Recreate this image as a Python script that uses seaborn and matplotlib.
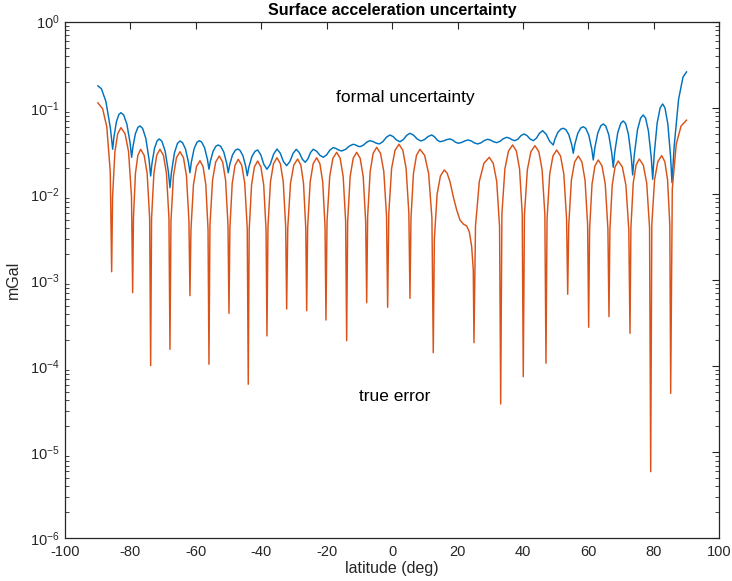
import numpy as np
import pandas as pd
import matplotlib
matplotlib.use("Agg")
import matplotlib.pyplot as plt
import seaborn as sns
from matplotlib.ticker import LogLocator, NullFormatter, FixedLocator, FuncFormatter

# ---------------- data ----------------
# latitude (deg) and log10 of the value in mGal
formal_lat = [
    -90.0, -88.86, -87.49, -86.12, -85.43,
    -85.05, -84.29, -83.53, -82.9, -82.08, -81.10, -80.12, -79.63,
    -79.25, -78.49, -77.73, -77.09, -76.27, -75.29, -74.31, -73.82,
    -73.43, -72.64, -71.85, -71.19, -70.37, -69.39, -68.41, -67.92,
    -67.46, -66.54, -65.62, -64.86, -64.10, -63.18, -62.27, -61.81,
    -61.38, -60.53, -59.67, -58.96, -58.22, -57.33, -56.44, -56.0,
    -55.57, -54.72, -53.87, -53.16, -52.40, -51.48, -50.56, -50.1,
    -49.67, -48.81, -47.95, -47.23, -46.50, -45.61, -44.73, -44.29,
    -43.81, -42.86, -41.91, -41.11,
    -40.16, -39.22, -38.27, -37.25, -36.23, -35.21,
    -34.22, -33.24, -32.25, -31.27, -30.29, -29.31,
    -28.41, -27.50, -26.6, -25.77, -24.95, -24.12,
    -23.10, -22.08, -21.06, -20.04, -19.02, -18.0,
    -17.15, -16.29, -15.44, -14.26, -13.07, -11.89,
    -11.21, -10.52, -9.84, -8.82, -7.81, -6.79,
    -5.84, -4.89, -3.94, -2.85, -1.76, -0.67,
    0.35, 1.36, 2.38, 3.40, 4.42, 5.44,
    6.56, 7.68, 8.80, 9.89, 10.98, 12.07,
    12.92, 13.76, 14.61, 15.63, 16.65, 17.67,
    18.51, 19.36, 20.2, 21.22, 22.24, 23.26,
    24.22, 25.18, 26.14, 27.16, 28.17, 29.19,
    30.11, 31.02, 31.94, 32.96, 33.98, 35.0,
    35.85, 36.69, 37.54, 38.46, 39.37, 40.29,
    41.24, 42.18, 43.13, 44.09, 45.04, 46.0,
    47.08, 48.16, 49.24,
    49.70, 50.62, 51.54, 52.3, 53.07, 53.98, 54.90, 55.36,
    55.82, 56.73, 57.65, 58.41, 59.17, 60.09, 61.01, 61.47,
    61.93, 62.85, 63.77, 64.53, 65.29, 66.21, 67.12, 67.58,
    68.04, 68.96, 69.88, 70.64, 71.36, 72.22, 73.08, 73.51,
    74.00, 74.97, 75.94, 76.75, 77.47, 78.33, 79.20, 79.63,
    80.09, 81.00, 81.92, 82.68, 83.39, 84.25, 85.10, 85.53,
    86.20, 87.54, 88.88, 90.0,
]
formal_log10 = [
    -0.743, -0.780, -0.928, -1.238, -1.482,
    -1.342, -1.163, -1.078, -1.057, -1.083, -1.187, -1.404, -1.575,
    -1.455, -1.302, -1.229, -1.211, -1.240, -1.356, -1.600, -1.792,
    -1.650, -1.470, -1.384, -1.362, -1.390, -1.504, -1.741, -1.928,
    -1.749, -1.522, -1.413, -1.386, -1.404, -1.478, -1.633, -1.754,
    -1.631, -1.475, -1.401, -1.382, -1.399, -1.465, -1.604, -1.714,
    -1.621, -1.503, -1.446, -1.432, -1.448, -1.513, -1.648, -1.754,
    -1.663, -1.548, -1.493, -1.479, -1.495, -1.557, -1.687, -1.789,
    -1.690, -1.565, -1.505, -1.490,
    -1.546, -1.658, -1.714, -1.655, -1.538, -1.479,
    -1.527, -1.624, -1.672, -1.625, -1.530, -1.482,
    -1.520, -1.595, -1.633, -1.595, -1.520, -1.482,
    -1.505, -1.552, -1.575, -1.547, -1.491, -1.463,
    -1.473, -1.492, -1.502, -1.483, -1.444, -1.424,
    -1.431, -1.445, -1.452, -1.435, -1.400, -1.382,
    -1.392, -1.411, -1.420, -1.394, -1.342, -1.316,
    -1.336, -1.375, -1.394, -1.370, -1.321, -1.296,
    -1.319, -1.364, -1.386, -1.369, -1.334, -1.316,
    -1.336, -1.375, -1.394, -1.386, -1.370, -1.362,
    -1.375, -1.400, -1.412, -1.403, -1.384, -1.374,
    -1.386, -1.409, -1.420, -1.407, -1.380, -1.366,
    -1.376, -1.395, -1.405, -1.390, -1.359, -1.343,
    -1.353, -1.372, -1.382, -1.363, -1.324, -1.304,
    -1.324, -1.363, -1.382, -1.353, -1.295, -1.266,
    -1.308, -1.391, -1.432,
    -1.368, -1.287, -1.248, -1.238, -1.253, -1.311, -1.432, -1.528,
    -1.426, -1.297, -1.235, -1.220, -1.239, -1.317, -1.479, -1.606,
    -1.468, -1.293, -1.209, -1.188, -1.213, -1.314, -1.525, -1.691,
    -1.513, -1.288, -1.180, -1.153, -1.184, -1.310, -1.573, -1.780,
    -1.550, -1.258, -1.119, -1.084, -1.121, -1.271, -1.584, -1.830,
    -1.542, -1.175, -1.000, -0.956, -1.002, -1.185, -1.568, -1.870,
    -1.445, -0.903, -0.645, -0.581,
]

true_lat = [
    -90.0, -88.51, -87.23, -86.17, -85.74,
    -85.46, -84.75, -83.89, -82.9, -81.65, -80.57, -79.68, -79.32,
    -79.08, -78.47, -77.73, -76.88, -75.81, -74.89, -74.13, -73.82,
    -73.54, -72.83, -71.97, -70.98, -69.91, -68.99, -68.23, -67.92,
    -67.61, -66.85, -65.93, -64.86, -63.79, -62.88, -62.12, -61.81,
    -61.50, -60.74, -59.82, -58.75, -57.79, -56.96, -56.28, -56.0,
    -55.69, -54.90, -53.95, -52.85, -51.81, -50.92, -50.18, -49.88,
    -49.60, -48.89, -48.03, -47.04, -45.97, -45.06, -44.30, -43.99,
    -43.70, -42.98, -42.12, -41.11, -40.12, -39.26, -38.55, -38.27,
    -37.96, -37.20, -36.28, -35.21, -34.17, -33.29, -32.55, -32.25,
    -31.91, -31.07, -30.07, -28.89, -27.92, -27.10, -26.41, -26.13,
    -25.83, -25.06, -24.15, -23.08, -22.09, -21.23, -20.52, -20.24,
    -19.91, -19.09, -18.11, -16.96, -15.89, -14.98, -14.22, -13.91,
    -13.60, -12.84, -11.92, -10.85, -9.78, -8.86, -8.10, -7.79,
    -7.49, -6.72, -5.81, -4.74, -3.56, -2.56, -1.72, -1.38,
    -1.03, -0.17, 0.87, 2.08, 3.26, 4.26, 5.10, 5.44,
    5.75, 6.51, 7.43, 8.50, 9.92, 11.14, 12.15, 12.56,
    12.90, 13.74, 14.75, 15.93, 16.80, 17.67, 18.68, 19.72, 20.72, 21.73,
    22.77, 23.57, 24.30, 24.79, 25.00,
    25.47, 26.64, 28.04, 29.68, 30.90, 31.95, 32.82, 33.17,
    33.54, 34.45, 35.55, 36.83, 37.96, 38.94, 39.75, 40.07,
    40.43, 41.32, 42.40, 43.65, 44.83, 45.83, 46.67, 47.01,
    47.34, 48.15, 49.14, 50.28, 51.46, 52.47, 53.31, 53.65,
    53.97, 54.78, 55.76, 56.89, 58.00, 58.95, 59.74, 60.06,
    60.35, 61.09, 61.97, 63.00, 64.14, 65.13, 65.94, 66.27,
    66.55, 67.26, 68.12, 69.11, 70.36, 71.44, 72.33, 72.69,
    72.97, 73.68, 74.54, 75.53, 76.75, 77.80, 78.67, 79.02,
    79.36, 80.20, 81.20, 82.38, 83.34, 84.17, 84.86, 85.13,
    85.62, 86.83, 88.30, 90.0,
]
true_log10 = [
    -0.941, -1.011, -1.221, -1.741, -2.904,
    -2.031, -1.511, -1.301, -1.231, -1.301, -1.511, -2.031, -3.147,
    -2.282, -1.762, -1.552, -1.482, -1.552, -1.762, -2.282, -3.995,
    -2.282, -1.762, -1.552, -1.482, -1.552, -1.762, -2.282, -3.805,
    -2.310, -1.790, -1.580, -1.510, -1.580, -1.790, -2.310, -3.182,
    -2.414, -1.894, -1.684, -1.614, -1.684, -1.894, -2.414, -3.979,
    -2.360, -1.840, -1.630, -1.560, -1.630, -1.840, -2.360, -3.387,
    -2.398, -1.878, -1.668, -1.598, -1.668, -1.878, -2.398, -4.211,
    -2.418, -1.898, -1.688, -1.618, -1.688, -1.898, -2.418, -3.650,
    -2.380, -1.860, -1.650, -1.580, -1.650, -1.860, -2.380, -3.337,
    -2.395, -1.875, -1.665, -1.595, -1.665, -1.875, -2.395, -3.357,
    -2.380, -1.860, -1.650, -1.580, -1.650, -1.860, -2.380, -3.465,
    -2.317, -1.797, -1.587, -1.517, -1.587, -1.797, -2.317, -3.705,
    -2.317, -1.797, -1.587, -1.517, -1.587, -1.797, -2.317, -3.264,
    -2.259, -1.739, -1.529, -1.459, -1.529, -1.739, -2.259, -3.317,
    -2.224, -1.704, -1.494, -1.424, -1.494, -1.704, -2.224, -3.213,
    -2.282, -1.762, -1.552, -1.482, -1.552, -1.762, -2.282, -3.844,
    -2.522, -2.002, -1.792, -1.722, -1.760, -1.858, -2.033, -2.187, -2.303, -2.350,
    -2.373, -2.439, -2.613, -2.884, -3.728,
    -2.375, -1.855, -1.645, -1.575, -1.645, -1.855, -2.375, -4.440,
    -2.232, -1.712, -1.502, -1.432, -1.502, -1.712, -2.232, -4.123,
    -2.240, -1.720, -1.510, -1.440, -1.510, -1.720, -2.240, -3.967,
    -2.290, -1.770, -1.560, -1.490, -1.560, -1.770, -2.290, -3.166,
    -2.360, -1.840, -1.630, -1.560, -1.630, -1.840, -2.360, -3.549,
    -2.406, -1.886, -1.676, -1.606, -1.676, -1.886, -2.406, -3.426,
    -2.418, -1.898, -1.688, -1.618, -1.688, -1.898, -2.418, -3.619,
    -2.395, -1.875, -1.665, -1.595, -1.665, -1.875, -2.395, -5.226,
    -2.356, -1.836, -1.626, -1.556, -1.626, -1.836, -2.356, -4.316,
    -1.942, -1.422, -1.212, -1.142,
]

x_ticks = [-100, -80, -60, -40, -20, 0, 20, 40, 60, 80, 100]
y_ticks = [1e-6, 1e-5, 1e-4, 1e-3, 1e-2, 1e-1, 1e0]

title_text = "Surface acceleration uncertainty"
x_label = "latitude (deg)"
y_label = "mGal"
formal_label = "formal uncertainty"
true_label = "true error"

# ---------------- styling ----------------
sns.set_style("white")
plt.rcParams["font.family"] = ["Liberation Sans", "DejaVu Sans"]
plt.rcParams["mathtext.fontset"] = "custom"
plt.rcParams["mathtext.rm"] = "Liberation Sans"
plt.rcParams["mathtext.it"] = "Liberation Sans:italic"
plt.rcParams["mathtext.bf"] = "Liberation Sans:bold"
plt.rcParams["axes.unicode_minus"] = False

dark = "#262626"
blue = "#0072BD"
orange = "#D95319"

df = pd.concat([
    pd.DataFrame({"lat": formal_lat, "val": np.power(10.0, formal_log10), "series": "formal"}),
    pd.DataFrame({"lat": true_lat, "val": np.power(10.0, true_log10), "series": "true"}),
], ignore_index=True)

fig = plt.figure(figsize=(7.32, 5.81), dpi=100)
ax = fig.add_axes([0.0888, 0.0735, 0.8939, 0.8892])

sns.lineplot(data=df, x="lat", y="val", hue="series", hue_order=["formal", "true"],
             palette={"formal": blue, "true": orange}, estimator=None, sort=False,
             legend=False, linewidth=1.05, ax=ax)

ax.set_yscale("log")
ax.set_xlim(-100, 100)
ax.set_ylim(1e-6, 1)
ax.set_xticks(x_ticks)
ax.xaxis.set_major_formatter(FuncFormatter(lambda v, p: "%d" % v))
ax.yaxis.set_major_locator(FixedLocator(y_ticks))
ax.yaxis.set_major_formatter(FuncFormatter(lambda v, p: r"$10^{%d}$" % int(round(np.log10(v)))))
ax.yaxis.set_minor_locator(LogLocator(base=10, subs=np.arange(2, 10)))
ax.yaxis.set_minor_formatter(NullFormatter())

ax.tick_params(axis="both", which="major", direction="in", length=5, width=0.8,
               top=True, right=True, colors=dark, labelsize=10.5)
ax.tick_params(axis="x", which="major", pad=5)
ax.tick_params(axis="y", which="major", pad=4)
ax.tick_params(axis="y", which="minor", direction="in", length=3, width=0.6,
               left=True, right=True, colors=dark)
for s in ax.spines.values():
    s.set_color(dark)
    s.set_linewidth(0.9)

ax.set_xlabel(x_label, fontsize=11.5, color=dark, labelpad=1)
ax.set_ylabel(y_label, fontsize=11.5, color=dark, labelpad=6)
ax.set_title(title_text, fontsize=11.5, fontweight="bold", color="black", pad=5)

ax.text(-17.2, 0.13, formal_label, fontsize=12.5, color="black", ha="left", va="center")
ax.text(-10.15, 4.4e-5, true_label, fontsize=12.5, color="black", ha="left", va="center")

fig.savefig("out.png", dpi=100)
